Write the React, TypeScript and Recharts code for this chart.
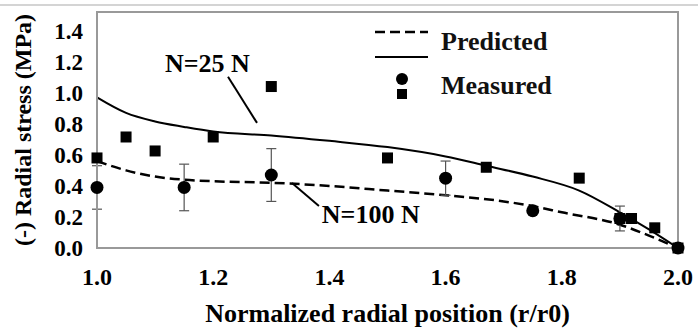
import React from "react";
import {
  ComposedChart,
  Line,
  Scatter,
  XAxis,
  YAxis,
  ErrorBar,
  ReferenceArea,
  ReferenceLine,
  ReferenceDot,
} from "recharts";

// predicted curves
const predX25 = [1.0, 1.05, 1.1, 1.15, 1.2, 1.3, 1.4, 1.5, 1.6, 1.67, 1.75, 1.83, 1.9, 1.95, 2.0];
const pred25 = [0.97, 0.87, 0.815, 0.78, 0.75, 0.725, 0.69, 0.65, 0.59, 0.53, 0.46, 0.37, 0.23, 0.12, 0.0];
const predX100 = [1.0, 1.05, 1.1, 1.15, 1.2, 1.3, 1.4, 1.5, 1.6, 1.7, 1.75, 1.8, 1.9, 1.95, 2.0];
const pred100 = [0.56, 0.5, 0.46, 0.44, 0.43, 0.42, 0.4, 0.37, 0.34, 0.3, 0.27, 0.23, 0.15, 0.08, 0.0];

// measured, N=25 (squares)
const measX25 = [1.0, 1.05, 1.1, 1.2, 1.3, 1.5, 1.67, 1.83, 1.9, 1.92, 1.96, 2.0];
const meas25 = [0.58, 0.715, 0.625, 0.715, 1.04, 0.58, 0.52, 0.45, 0.19, 0.19, 0.13, 0.0];

// measured, N=100 (circles) with error
const measX100 = [1.0, 1.15, 1.3, 1.6, 1.75, 1.9, 2.0];
const meas100 = [0.39, 0.39, 0.47, 0.45, 0.24, 0.19, 0.0];
const err100 = [0.14, 0.15, 0.17, 0.11, 0, 0.08, 0];

const xTicks = [1.0, 1.2, 1.4, 1.6, 1.8, 2.0];
const yTicks = [0, 0.2, 0.4, 0.6, 0.8, 1.0, 1.2, 1.4];

const line25 = predX25.map((x, i) => ({ x, y: pred25[i] }));
const line100 = predX100.map((x, i) => ({ x, y: pred100[i] }));
const sq25 = measX25.map((x, i) => ({ x, y: meas25[i] }));
const ci100 = measX100.map((x, i) => ({ x, y: meas100[i], err: err100[i] }));

const FONT = "Liberation Serif, DejaVu Serif, serif";
const txt = { fontFamily: FONT, fontWeight: "bold" as const, fill: "#000" };

const Square = (p: any) => (
  <rect x={p.cx - 5.5} y={p.cy - 5.5} width={11} height={11} fill="#000" />
);
const Dot = (p: any) => <circle cx={p.cx} cy={p.cy} r={6.5} fill="#000" />;

// legend drawn on top of the chart, top right
const LegendBox = () => (
  <div
    style={{
      position: "absolute",
      left: 367,
      top: 22,
      fontFamily: FONT,
      fontWeight: "bold",
      fontSize: 26,
      color: "#111",
      lineHeight: "26px",
    }}
  >
    <div style={{ display: "flex", alignItems: "center", height: 40 }}>
      <svg width={74} height={40}>
        <line x1={8} y1={10} x2={61} y2={10} stroke="#000" strokeWidth={2.5} strokeDasharray="10 5" />
        <line x1={8} y1={35} x2={61} y2={35} stroke="#000" strokeWidth={2} />
      </svg>
      <span>Predicted</span>
    </div>
    <div style={{ display: "flex", alignItems: "center", height: 36, marginTop: 6 }}>
      <svg width={74} height={36}>
        <circle cx={35} cy={11} r={6} fill="#000" />
        <rect x={30} y={21} width={10} height={10} fill="#000" />
      </svg>
      <span>Measured</span>
    </div>
  </div>
);

export default function App() {
  return (
    <div style={{ position: "absolute", left: 0, top: 0, width: 698, height: 329, background: "#fff", fontFamily: FONT }}>
      <div style={{ position: "absolute", left: 0, top: 4, width: 698, borderTop: "2px solid #d4d4d4" }} />
      <ComposedChart
        width={698}
        height={329}
        margin={{ top: 12, right: 20, bottom: 0, left: 0 }}
        style={{ fontFamily: FONT }}
      >
        <XAxis
          type="number"
          dataKey="x"
          domain={[1, 2]}
          ticks={xTicks}
          interval={0}
          tickFormatter={(v: number) => v.toFixed(1)}
          height={81}
          tickLine={false}
          tickSize={0}
          tickMargin={20}
          axisLine={{ stroke: "#999", strokeWidth: 2 }}
          tick={{ ...txt, fontSize: 24 }}
          label={{
            value: "Normalized radial position (r/r0)",
            position: "insideBottom",
            offset: 7,
            style: { ...txt, fontSize: 26 },
          }}
        />
        <YAxis
          type="number"
          domain={[0, 1.52]}
          ticks={yTicks}
          interval={0}
          tickFormatter={(v: number) => v.toFixed(1)}
          width={97}
          tickLine={false}
          tickSize={0}
          tickMargin={14}
          axisLine={{ stroke: "#999", strokeWidth: 2 }}
          tick={{ ...txt, fontSize: 23 }}
          label={{
            value: "(-) Radial stress (MPa)",
            angle: -90,
            position: "insideLeft",
            offset: 22,
            style: { ...txt, fontSize: 24, textAnchor: "middle" },
          }}
        />
        <ReferenceArea x1={1} x2={2} y1={0} y2={1.52} fill="none" stroke="#999" strokeWidth={2} />
        <Line
          data={line25}
          dataKey="y"
          type="monotone"
          stroke="#000"
          strokeWidth={2}
          dot={false}
          isAnimationActive={false}
        />
        <Line
          data={line100}
          dataKey="y"
          type="monotone"
          stroke="#000"
          strokeWidth={2.5}
          strokeDasharray="10 5"
          dot={false}
          isAnimationActive={false}
        />
        <Scatter data={sq25} dataKey="y" shape={Square} isAnimationActive={false} />
        <Scatter data={ci100} dataKey="y" shape={Dot} isAnimationActive={false}>
          <ErrorBar dataKey="err" direction="y" width={5} stroke="#555" strokeWidth={1.2} />
        </Scatter>
        <ReferenceLine
          segment={[{ x: 1.2255, y: 1.103 }, { x: 1.2754, y: 0.806 }]}
          stroke="#000"
          strokeWidth={2}
        />
        <ReferenceLine
          segment={[{ x: 1.3356, y: 0.419 }, { x: 1.382, y: 0.271 }]}
          stroke="#000"
          strokeWidth={2}
        />
        <ReferenceDot
          x={1.117}
          y={1.194}
          r={0}
          fill="none"
          stroke="none"
          label={{ value: "N=25 N", position: "right", offset: 0, style: { ...txt, fontSize: 26 } }}
        />
        <ReferenceDot
          x={1.387}
          y={0.219}
          r={0}
          fill="none"
          stroke="none"
          label={{ value: "N=100 N", position: "right", offset: 0, style: { ...txt, fontSize: 26 } }}
        />
      </ComposedChart>
      <LegendBox />
    </div>
  );
}
